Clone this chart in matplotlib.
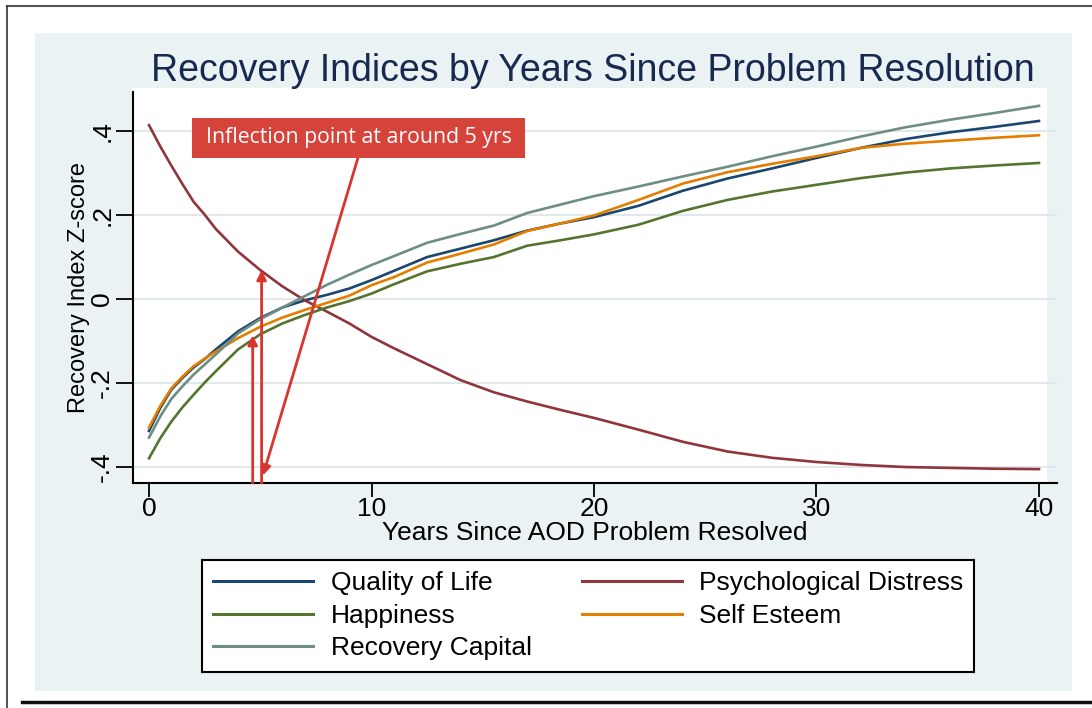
import matplotlib
matplotlib.use("Agg")
import matplotlib.pyplot as plt
from matplotlib.patches import Rectangle
from matplotlib.lines import Line2D

plt.rcParams['font.family'] = ['Liberation Sans', 'DejaVu Sans']

# values (years since resolution -> z-score)
years = [0, 0.5, 1, 1.5, 2, 2.5, 3, 4, 5, 6, 7, 8, 9, 10, 11, 12.5, 14, 15.5,
         17, 18.5, 20, 22, 24, 26, 28, 30, 32, 34, 36, 38, 40]
quality_of_life = [-0.314, -0.260, -0.216, -0.188, -0.163, -0.143, -0.120, -0.077,
                   -0.045, -0.020, -0.003, 0.010, 0.025, 0.045, 0.067, 0.100,
                   0.120, 0.140, 0.163, 0.180, 0.195, 0.222, 0.258, 0.287,
                   0.311, 0.336, 0.360, 0.381, 0.397, 0.410, 0.424]
psych_distress = [0.414, 0.364, 0.318, 0.274, 0.232, 0.201, 0.167, 0.113,
                  0.069, 0.030, -0.003, -0.030, -0.058, -0.090, -0.117, -0.155,
                  -0.193, -0.222, -0.244, -0.264, -0.283, -0.311, -0.340, -0.363,
                  -0.378, -0.388, -0.395, -0.400, -0.402, -0.404, -0.405]
happiness = [-0.379, -0.332, -0.292, -0.258, -0.228, -0.199, -0.172, -0.120,
             -0.084, -0.058, -0.038, -0.020, -0.005, 0.013, 0.035, 0.066,
             0.084, 0.100, 0.127, 0.140, 0.154, 0.177, 0.210, 0.236,
             0.256, 0.272, 0.288, 0.301, 0.311, 0.318, 0.324]
self_esteem = [-0.306, -0.255, -0.213, -0.185, -0.160, -0.142, -0.125, -0.093,
               -0.066, -0.044, -0.026, -0.009, 0.008, 0.033, 0.052, 0.087,
               0.108, 0.130, 0.162, 0.180, 0.199, 0.236, 0.275, 0.302,
               0.322, 0.340, 0.360, 0.370, 0.377, 0.384, 0.390]
recovery_capital = [-0.330, -0.280, -0.238, -0.208, -0.180, -0.156, -0.132, -0.082,
                    -0.048, -0.020, 0.007, 0.034, 0.058, 0.081, 0.102, 0.134,
                    0.155, 0.175, 0.205, 0.225, 0.245, 0.268, 0.292, 0.315,
                    0.340, 0.363, 0.387, 0.409, 0.427, 0.443, 0.460]

series = [
    ("Quality of Life", quality_of_life, "#1a476f"),
    ("Psychological Distress", psych_distress, "#90353b"),
    ("Happiness", happiness, "#55752f"),
    ("Self Esteem", self_esteem, "#e37e00"),
    ("Recovery Capital", recovery_capital, "#6e8e84"),
]

y_ticks = [-0.4, -0.2, 0, 0.2, 0.4]
y_tick_labels = ["-.4", "-.2", "0", ".2", ".4"]
x_ticks = [0, 10, 20, 30, 40]

# annotation: box text and arrow points (data units)
note_text = "Inflection point at around 5 yrs"
arrow_from = (9.39, 0.336)
arrow_to = (5.12, -0.420)
up_arrows = [(5.06, 0.069), (4.66, -0.086)]

W, H = 1092, 708
fig = plt.figure(figsize=(W / 100, H / 100), dpi=100)
fig.patch.set_facecolor("white")

# outer frame and light panel
fig.add_artist(Rectangle((35 / W, 1 - 691 / H), (1072 - 35) / W, (691 - 33) / H,
                         transform=fig.transFigure, facecolor="#eaf2f3",
                         edgecolor="none", zorder=0))
fig.add_artist(Line2D([7 / W, 1], [1 - 6 / H, 1 - 6 / H], color="#555555", lw=1.5))
fig.add_artist(Line2D([7 / W, 7 / W], [0, 1 - 6 / H], color="#333333", lw=1.2))
fig.add_artist(Line2D([22 / W, 1], [1 - 702 / H, 1 - 702 / H], color="#111111", lw=2.5))

left, right, top, bottom = 133, 1057, 92, 483
ax = fig.add_axes([left / W, 1 - bottom / H, (right - left) / W, (bottom - top) / H])
ax.set_facecolor("#eaf2f3")
ax.add_patch(Rectangle((0, 0), (1047 - left) / (right - left), 1.01,
                       transform=ax.transAxes, facecolor="white",
                       edgecolor="none", zorder=0, clip_on=False))

for name, vals, col in series:
    ax.plot(years, vals, color=col, lw=1.9, label=name, zorder=3)

ax.set_xlim(-0.72, 40.81)
ax.set_ylim(-0.438, 0.493)
ax.set_xticks(x_ticks)
ax.set_yticks(y_ticks)
ax.set_yticklabels(y_tick_labels, rotation=90, va="center")
ax.tick_params(axis="both", labelsize=19, direction="out", width=1.3, color="black")
ax.tick_params(axis="y", length=12, pad=1.5)
ax.tick_params(axis="x", length=10, pad=0)
for y in y_ticks:
    ax.axhline(y, color="#dde6e9", lw=1.3, zorder=1)
for s in ["top", "right"]:
    ax.spines[s].set_visible(False)
for s in ["left", "bottom"]:
    ax.spines[s].set_linewidth(1.5)

ax.set_xlabel("Years Since AOD Problem Resolved", fontsize=19, labelpad=0)
ax.set_ylabel("Recovery Index Z-score", fontsize=17, labelpad=0.5)

fig.text(593 / W, 1 - 71 / H, "Recovery Indices by Years Since Problem Resolution",
         fontsize=27, color="#18294f", ha="center", va="center")

# red callout
ax.add_patch(Rectangle((1.93, 0.336), 16.9 - 1.93, 0.431 - 0.336,
                       facecolor="#d6433b", edgecolor="none", zorder=5))
ax.text((1.93 + 16.9) / 2, (0.336 + 0.431) / 2, note_text, color="white",
        fontsize=15.3, family=["Open Sans", "DejaVu Sans"], ha="center",
        va="center", zorder=6)
red = "#d8362d"
ax.annotate("", xy=arrow_to, xytext=arrow_from,
            arrowprops=dict(arrowstyle="-|>", color=red, lw=2, mutation_scale=14,
                            shrinkA=0, shrinkB=0), zorder=4)
for ux, uy in up_arrows:
    ax.annotate("", xy=(ux, uy), xytext=(ux, -0.438),
                arrowprops=dict(arrowstyle="-|>", color=red, lw=2, mutation_scale=14,
                                shrinkA=0, shrinkB=0), zorder=4)

handles, labels = ax.get_legend_handles_labels()
order = [0, 2, 4, 1, 3]
leg = fig.legend([handles[i] for i in order], [labels[i] for i in order],
                 loc="upper left", ncol=2,
                 bbox_to_anchor=(202 / W, 1 - 560 / H),
                 fontsize=19, frameon=True, fancybox=False, edgecolor="black",
                 framealpha=1, handlelength=3.8, handletextpad=0.65,
                 labelspacing=0.33, columnspacing=1.9,
                 borderpad=0.42, borderaxespad=0)
leg.get_frame().set_linewidth(1.5)
for line in leg.get_lines():
    line.set_linewidth(2.2)

fig.savefig("out.png", dpi=100)
